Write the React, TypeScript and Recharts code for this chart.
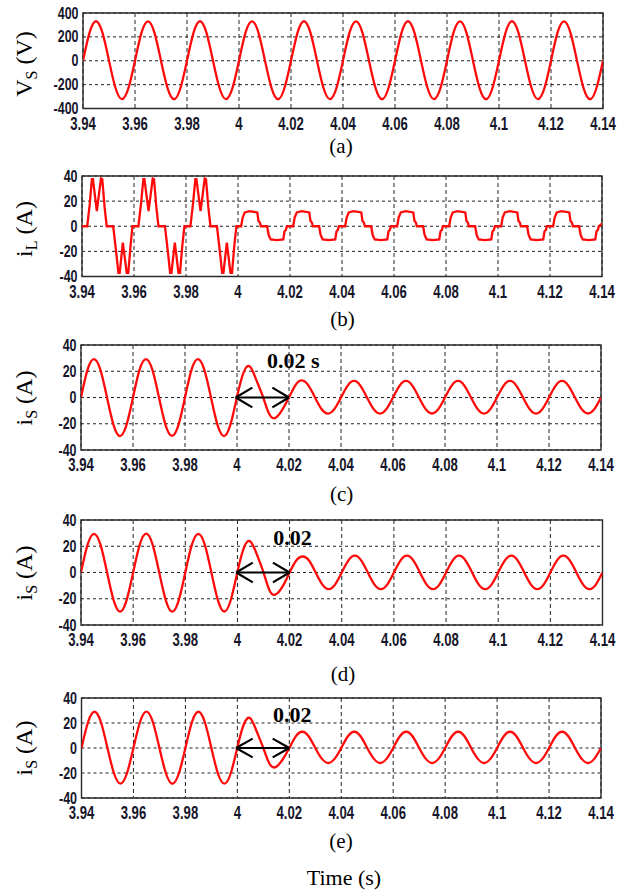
import React from 'react';
import {
  LineChart,
  Line,
  XAxis,
  YAxis,
  CartesianGrid,
  ReferenceArea,
  ReferenceLine,
  ReferenceDot,
} from 'recharts';

// ---------- tick values / labels ----------
const timeTicks = [3.94, 3.96, 3.98, 4.0, 4.02, 4.04, 4.06, 4.08, 4.1, 4.12, 4.14];
const timeTickLabels = ['3.94', '3.96', '3.98', '4', '4.02', '4.04', '4.06', '4.08', '4.1', '4.12', '4.14'];
const vsTicks = [-400, -200, 0, 200, 400];
const vsTickLabels = ['-400', '-200', '0', '200', '400'];
const ampTicks = [-40, -20, 0, 20, 40];
const ampTickLabels = ['-40', '-20', '0', '20', '40'];

// ---------- sampled time base for the sinusoidal traces ----------
const sineTime = [
  3.94, 3.9425, 3.945, 3.9475, 3.95, 3.9525, 3.955, 3.9575,
  3.96, 3.9625, 3.965, 3.9675, 3.97, 3.9725, 3.975, 3.9775,
  3.98, 3.9825, 3.985, 3.9875, 3.99, 3.9925, 3.995, 3.9975,
  4.0, 4.0025, 4.005, 4.0075, 4.01, 4.0125, 4.015, 4.0175,
  4.02, 4.0225, 4.025, 4.0275, 4.03, 4.0325, 4.035, 4.0375,
  4.04, 4.0425, 4.045, 4.0475, 4.05, 4.0525, 4.055, 4.0575,
  4.06, 4.0625, 4.065, 4.0675, 4.07, 4.0725, 4.075, 4.0775,
  4.08, 4.0825, 4.085, 4.0875, 4.09, 4.0925, 4.095, 4.0975,
  4.1, 4.1025, 4.105, 4.1075, 4.11, 4.1125, 4.115, 4.1175,
  4.12, 4.1225, 4.125, 4.1275, 4.13, 4.1325, 4.135, 4.1375,
  4.14,
];

// (a) source voltage Vs (V)
const vsValues = [
  0, 234, 331, 233, 1, -228, -321, -227,
  0, 235, 330, 234, 0, -227, -322, -228,
  1, 234, 331, 233, 0, -228, -321, -227,
  0, 235, 330, 234, 1, -227, -322, -228,
  0, 234, 331, 233, 0, -228, -321, -227,
  1, 235, 330, 234, 0, -227, -322, -228,
  0, 234, 331, 233, 1, -228, -321, -227,
  0, 235, 330, 234, 0, -227, -322, -228,
  1, 234, 331, 233, 0, -228, -321, -227,
  0, 235, 330, 234, 1, -227, -322, -228,
  0,
];

// (c) source current is (A)
const isValuesC = [
  0, 21, 29.2, 20.8, 0, -20.8, -29.4, -20.9,
  0, 21, 29.3, 20.8, 0, -20.9, -29.3, -20.8,
  0, 21, 29.2, 20.7, 0, -20.9, -29.4, -20.5,
  0.5, 19, 23.5, 13, 0.5, -13, -15.2, -9,
  0, 9.5, 13, 9, 0, -8.8, -12.3, -8.7,
  0, 8.9, 12.6, 8.9, 0, -8.7, -12.3, -8.7,
  0, 8.9, 12.7, 8.9, 0, -8.7, -12.2, -8.7,
  0, 8.9, 12.6, 8.9, 0, -8.7, -12.3, -8.7,
  0, 8.9, 12.6, 8.9, 0, -8.7, -12.3, -8.7,
  0, 8.9, 12.7, 8.9, 0, -8.7, -12.2, -8.7,
  0,
];

// (d) source current is (A)
const isValuesD = [
  0, 21, 29.5, 21, 0, -21, -29.8, -21,
  0, 21, 29.6, 21, 0, -21, -29.8, -21,
  0, 21, 29.5, 21, 0, -21, -29.7, -20.6,
  0.5, 19, 23.6, 13.5, 0, -14.5, -16.3, -10,
  0, 9, 12.2, 9, 0, -9, -12.6, -9,
  0, 9, 12.8, 9, 0, -9, -12.7, -9,
  0, 9, 12.8, 9, 0, -9, -12.7, -9,
  0, 9, 12.8, 9, 0, -9, -12.7, -9,
  0, 9, 12.8, 9, 0, -9, -12.7, -9,
  0, 9, 12.8, 9, 0, -9, -12.7, -9,
  0,
];

// (e) source current is (A)
const isValuesE = [
  0, 20.6, 29, 20.6, 0, -20.2, -28.5, -20.2,
  0, 20.6, 29.1, 20.6, 0, -20.2, -28.6, -20.2,
  0, 20.6, 29, 20.6, 0, -20.2, -28.5, -20,
  0.5, 19, 23.7, 13, 0, -13, -15, -9,
  0, 9.3, 13, 9.2, 0, -8.5, -12, -8.5,
  0, 9.2, 13, 9.2, 0, -8.5, -12, -8.5,
  0, 9.2, 13, 9.2, 0, -8.5, -12, -8.5,
  0, 9.2, 13, 9.2, 0, -8.5, -12, -8.5,
  0, 9.2, 13, 9.2, 0, -8.5, -12, -8.5,
  0, 9.2, 13, 9.2, 0, -8.5, -12, -8.5,
  0,
];

// (b) load current iL (A)
const iLTime = [
  3.94, 3.942, 3.943, 3.9438, 3.9442, 3.9457, 3.9473, 3.9478, 3.9487, 3.9495,
  3.952, 3.953, 3.954, 3.9545, 3.9557, 3.9572, 3.9578, 3.9587, 3.9594,
  3.9617, 3.9627, 3.9636, 3.964, 3.9656, 3.9672, 3.9677, 3.9686, 3.9694,
  3.9719, 3.9729, 3.9739, 3.9744, 3.9757, 3.9771, 3.9777, 3.9786, 3.9794,
  3.9817, 3.9827, 3.9836, 3.984, 3.9856, 3.9872, 3.9877, 3.9886, 3.9894,
  3.9919, 3.9929, 3.9939, 3.9944, 3.9957, 3.9971, 3.9977, 3.9986, 3.9994,
  4.0012, 4.0018, 4.0026, 4.0045, 4.0074, 4.0079, 4.0084, 4.0088,
  4.0112, 4.0118, 4.0126, 4.015, 4.0174, 4.0179, 4.0184, 4.0188,
  4.0212, 4.0218, 4.0226, 4.0245, 4.0274, 4.0279, 4.0284, 4.0288,
  4.0312, 4.0318, 4.0326, 4.035, 4.0374, 4.0379, 4.0384, 4.0388,
  4.0412, 4.0418, 4.0426, 4.0445, 4.0474, 4.0479, 4.0484, 4.0488,
  4.0512, 4.0518, 4.0526, 4.055, 4.0574, 4.0579, 4.0584, 4.0588,
  4.0612, 4.0618, 4.0626, 4.0645, 4.0674, 4.0679, 4.0684, 4.0688,
  4.0712, 4.0718, 4.0726, 4.075, 4.0774, 4.0779, 4.0784, 4.0788,
  4.0812, 4.0818, 4.0826, 4.0845, 4.0874, 4.0879, 4.0884, 4.0888,
  4.0912, 4.0918, 4.0926, 4.095, 4.0974, 4.0979, 4.0984, 4.0988,
  4.1012, 4.1018, 4.1026, 4.1045, 4.1074, 4.1079, 4.1084, 4.1088,
  4.1112, 4.1118, 4.1126, 4.115, 4.1174, 4.1179, 4.1184, 4.1188,
  4.1212, 4.1218, 4.1226, 4.1245, 4.1274, 4.1279, 4.1284, 4.1288,
  4.1312, 4.1318, 4.1326, 4.135, 4.1374, 4.1379, 4.1384, 4.1388,
  4.14,
];
const iLValues = [
  0, 0, 18, 37.5, 37.5, 12, 38, 37.5, 15, 0,
  0, -18, -37, -37, -13, -37, -37, -15, 0,
  0, 18, 37.5, 37.5, 12, 38, 37.5, 15, 0,
  0, -18, -37, -37, -13, -37, -37, -15, 0,
  0, 18, 37.5, 37.5, 12, 38, 37.5, 15, 0,
  0, -18, -37, -37, -13, -37, -37, -15, 0,
  0, 7, 11, 12, 11, 4, 3, 0,
  0, -7, -10.5, -11, -10.5, -4, -3, 0,
  0, 7, 11, 12, 11, 4, 3, 0,
  0, -7, -10.5, -11, -10.5, -4, -3, 0,
  0, 7, 11, 12, 11, 4, 3, 0,
  0, -7, -10.5, -11, -10.5, -4, -3, 0,
  0, 7, 11, 12, 11, 4, 3, 0,
  0, -7, -10.5, -11, -10.5, -4, -3, 0,
  0, 7, 11, 12, 11, 4, 3, 0,
  0, -7, -10.5, -11, -10.5, -4, -3, 0,
  0, 7, 11, 12, 11, 4, 3, 0,
  0, -7, -10.5, -11, -10.5, -4, -3, 0,
  0, 7, 11, 12, 11, 4, 3, 0,
  0, -7, -10.5, -11, -10.5, -4, -3, 0,
  2,
];

// annotation (arrow spanning one period after the change at t = 4 s)
const arrowStart = 3.9995;
const arrowEnd = 4.02;
const arrowHeadDx = 0.0064;
const arrowHeadDy = 7.5;

const toRows = (ts: number[], vs: number[]) => ts.map((t, i) => ({ t, v: vs[i] }));

const TICK_FONT = "'Liberation Sans', Arial, sans-serif";
const SERIF = "'Liberation Serif', 'Times New Roman', serif";
const TICK_COLOR = '#16162a';

const labelFor = (vals: number[], labels: string[], v: number) => {
  const i = vals.findIndex((x) => Math.abs(x - v) < 1e-9);
  return i >= 0 ? labels[i] : String(v);
};

const XTick = (props: any) => {
  const { x, y, payload } = props;
  return (
    <g transform={`translate(${x},${y})`}>
      <text
        x={0}
        y={21.5}
        textAnchor="middle"
        transform="scale(0.73,1)"
        fontFamily={TICK_FONT}
        fontWeight="bold"
        fontSize={18}
        fill={TICK_COLOR}
      >
        {labelFor(timeTicks, timeTickLabels, payload.value)}
      </text>
    </g>
  );
};

const makeYTick = (vals: number[], labels: string[]) => (props: any) => {
  const { x, y, payload } = props;
  return (
    <g transform={`translate(${x - 4.5},${y})`}>
      <text
        x={0}
        y={5.5}
        textAnchor="end"
        transform="scale(0.78,1)"
        fontFamily={TICK_FONT}
        fontWeight="bold"
        fontSize={16}
        fill={TICK_COLOR}
      >
        {labelFor(vals, labels, payload.value)}
      </text>
    </g>
  );
};

type PanelProps = {
  rows: { t: number; v: number }[];
  left: number;
  right: number;
  top: number;
  bottom: number;
  yDomain: [number, number];
  yTicks: number[];
  yLabels: string[];
  curve: 'natural' | 'linear';
  note?: { text: string; x: number; y: number };
};

const MT = 12;
const XH = 30;

const Panel = ({ rows, left, right, top, bottom, yDomain, yTicks, yLabels, curve, note }: PanelProps) => {
  const h = bottom - top;
  return (
    <div style={{ position: 'absolute', left: 0, top: top - MT }}>
      <LineChart
        width={628}
        height={h + MT + XH}
        data={rows}
        margin={{ top: MT, right: 628 - right, bottom: 0, left: 0 }}
      >
        <CartesianGrid vertical={false} stroke="#222" strokeDasharray="3 3" strokeWidth={1} />
        <CartesianGrid horizontal={false} stroke="#222" strokeDasharray="4 3" strokeWidth={1} />
        <XAxis
          dataKey="t"
          type="number"
          domain={[timeTicks[0], timeTicks[timeTicks.length - 1]]}
          ticks={timeTicks}
          interval={0}
          allowDataOverflow
          tickLine={false}
          axisLine={false}
          tickSize={0}
          tickMargin={0}
          height={XH}
          tick={(p: any) => <XTick {...p} />}
        />
        <YAxis
          type="number"
          domain={yDomain}
          ticks={yTicks}
          interval={0}
          allowDataOverflow
          tickLine={false}
          axisLine={false}
          tickSize={0}
          tickMargin={0}
          width={left}
          tick={makeYTick(yTicks, yLabels)}
        />
        <Line
          type={curve}
          dataKey="v"
          stroke="#ff0a0a"
          strokeWidth={2.3}
          dot={false}
          isAnimationActive={false}
        />
        <ReferenceArea
          x1={timeTicks[0]}
          x2={timeTicks[timeTicks.length - 1]}
          y1={yDomain[0]}
          y2={yDomain[1]}
          fill="none"
          fillOpacity={0}
          stroke="#2a2a2a"
          strokeWidth={1.4}
        />
        {note && (
          <ReferenceLine
            segment={[{ x: arrowStart, y: 0 }, { x: arrowEnd, y: 0 }]}
            stroke="#000"
            strokeWidth={2.2}
          />
        )}
        {note && (
          <ReferenceLine
            segment={[{ x: arrowStart, y: 0 }, { x: arrowStart + arrowHeadDx, y: arrowHeadDy }]}
            stroke="#000"
            strokeWidth={2.2}
          />
        )}
        {note && (
          <ReferenceLine
            segment={[{ x: arrowStart, y: 0 }, { x: arrowStart + arrowHeadDx, y: -arrowHeadDy }]}
            stroke="#000"
            strokeWidth={2.2}
          />
        )}
        {note && (
          <ReferenceLine
            segment={[{ x: arrowEnd, y: 0 }, { x: arrowEnd - arrowHeadDx, y: arrowHeadDy }]}
            stroke="#000"
            strokeWidth={2.2}
          />
        )}
        {note && (
          <ReferenceLine
            segment={[{ x: arrowEnd, y: 0 }, { x: arrowEnd - arrowHeadDx, y: -arrowHeadDy }]}
            stroke="#000"
            strokeWidth={2.2}
          />
        )}
        {note && (
          <ReferenceDot
            x={note.x}
            y={note.y}
            r={1}
            fill="none"
            stroke="none"
            label={{
              content: (lp: any) => {
                const vb = lp.viewBox || {};
                const cx = (vb.x ?? 0) + (vb.width ?? 0) / 2;
                const cy = (vb.y ?? 0) + (vb.height ?? 0) / 2;
                return (
                  <text
                    x={cx}
                    y={cy}
                    fontFamily={SERIF}
                    fontWeight="bold"
                    fontSize={22}
                    fill="#000"
                  >
                    {note.text}
                  </text>
                );
              },
            }}
          />
        )}
      </LineChart>
    </div>
  );
};

const YLabel = ({ cy, main, sub, unit }: { cy: number; main: string; sub: string; unit: string }) => (
  <text
    transform={`translate(31.5,${cy}) rotate(-90)`}
    textAnchor="middle"
    fontFamily={SERIF}
    fontSize={24}
    fill="#000"
  >
    {main}
    <tspan fontSize={16} dy={5}>{sub}</tspan>
    <tspan dy={-5}>{' ' + unit}</tspan>
  </text>
);

const Caption = ({ x, y, text, size = 21 }: { x: number; y: number; text: string; size?: number }) => (
  <text x={x} y={y} textAnchor="middle" fontFamily={SERIF} fontSize={size} fill="#000">
    {text}
  </text>
);

export default function App() {
  return (
    <div style={{ position: 'absolute', left: 0, top: 0, width: 628, height: 893, background: '#fff' }}>
      <Panel
        rows={toRows(sineTime, vsValues)}
        left={83}
        right={603}
        top={13}
        bottom={108.5}
        yDomain={[-400, 400]}
        yTicks={vsTicks}
        yLabels={vsTickLabels}
        curve="natural"
      />
      <Panel
        rows={toRows(iLTime, iLValues)}
        left={82}
        right={602}
        top={176}
        bottom={276.5}
        yDomain={[-40, 40]}
        yTicks={ampTicks}
        yLabels={ampTickLabels}
        curve="linear"
      />
      <Panel
        rows={toRows(sineTime, isValuesC)}
        left={81}
        right={601}
        top={345}
        bottom={450}
        yDomain={[-40, 40]}
        yTicks={ampTicks}
        yLabels={ampTickLabels}
        curve="natural"
        note={{ text: '0.02 s', x: 4.0115, y: 22.3 }}
      />
      <Panel
        rows={toRows(sineTime, isValuesD)}
        left={81}
        right={602.5}
        top={520}
        bottom={625}
        yDomain={[-40, 40]}
        yTicks={ampTicks}
        yLabels={ampTickLabels}
        curve="natural"
        note={{ text: '0.02', x: 4.0137, y: 21.3 }}
      />
      <Panel
        rows={toRows(sineTime, isValuesE)}
        left={81.5}
        right={601}
        top={698.3}
        bottom={798.3}
        yDomain={[-40, 40]}
        yTicks={ampTicks}
        yLabels={ampTickLabels}
        curve="natural"
        note={{ text: '0.02', x: 4.0137, y: 21.2 }}
      />
      <svg
        width={628}
        height={893}
        style={{ position: 'absolute', left: 0, top: 0, pointerEvents: 'none' }}
      >
        <YLabel cy={64} main="V" sub="S" unit="(V)" />
        <YLabel cy={229} main="i" sub="L" unit="(A)" />
        <YLabel cy={398} main="i" sub="S" unit="(A)" />
        <YLabel cy={573} main="i" sub="S" unit="(A)" />
        <YLabel cy={748} main="i" sub="S" unit="(A)" />
        <Caption x={341} y={153} text="(a)" />
        <Caption x={342.5} y={326} text="(b)" />
        <Caption x={341.7} y={501} text="(c)" />
        <Caption x={343} y={681} text="(d)" />
        <Caption x={341} y={848} text="(e)" />
        <Caption x={344} y={885} text="Time (s)" size={22} />
      </svg>
    </div>
  );
}
